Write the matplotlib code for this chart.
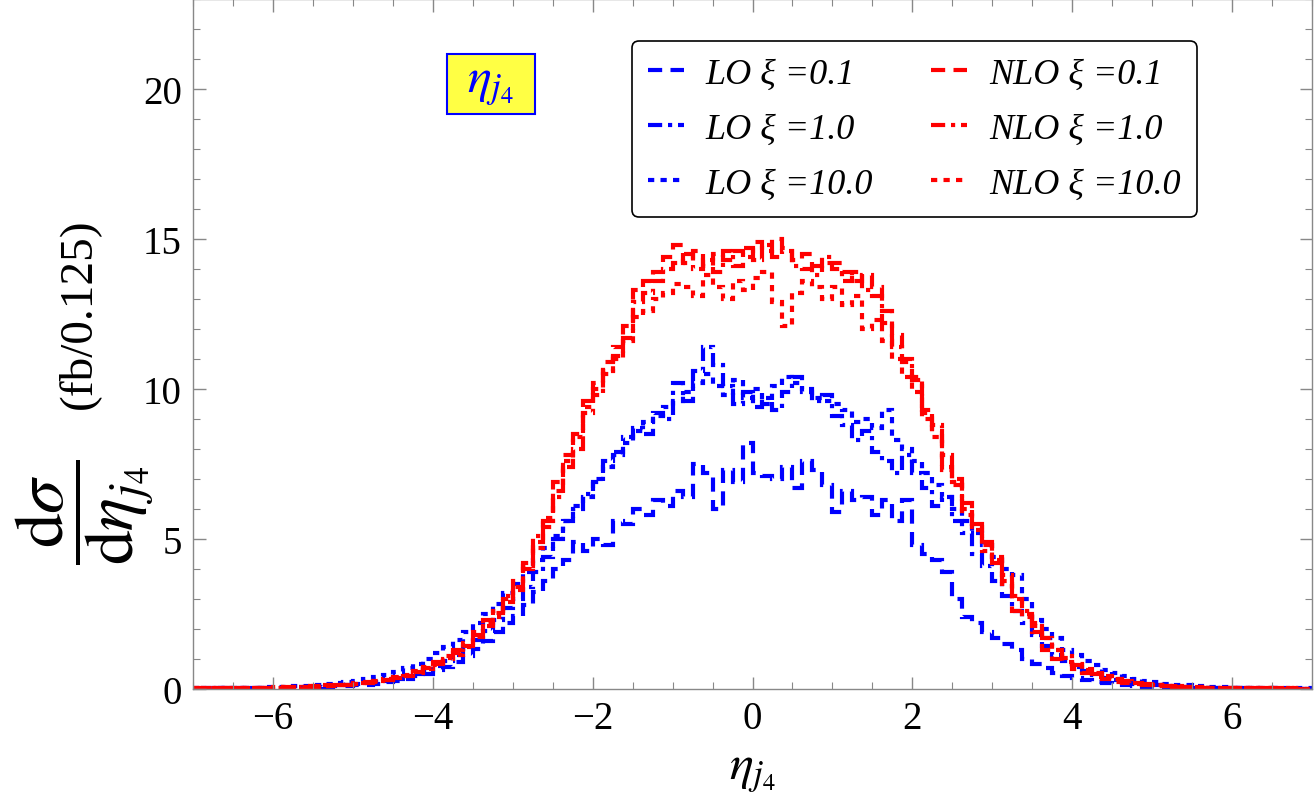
# eta_j4 distributions, LO / NLO for three scale choices
import numpy as np
import matplotlib
matplotlib.use('Agg')
from matplotlib import pyplot as plt
from matplotlib.patches import Rectangle
from matplotlib.ticker import MultipleLocator

plt.rcParams['mathtext.fontset'] = 'stix'
plt.rcParams['font.family'] = ['Liberation Serif', 'DejaVu Serif']

bin_width = 0.125
eta_min, eta_max = -7.0, 7.0

# one row = one unit of eta (8 bins), from -7 to 7
lo_01 = [
    0.01, 0.01, 0.02, 0.01, 0.02, 0.03, 0.02, 0.03,
    0.03, 0.04, 0.05, 0.05, 0.07, 0.06, 0.09, 0.10,
    0.12, 0.15, 0.18, 0.22, 0.27, 0.33, 0.42, 0.50,
    0.62, 0.75, 0.90, 1.10, 1.35, 1.60, 1.90, 2.20,
    2.45, 2.80, 3.25, 3.60, 4.00, 4.30, 4.90, 4.60,
    5.00, 4.80, 5.60, 5.50, 6.00, 5.80, 6.30, 6.10,
    6.60, 6.40, 7.50, 7.20, 6.00, 7.30, 6.90, 8.20,
    7.20, 7.10, 7.00, 7.40, 6.70, 7.60, 7.30, 6.80,
    5.90, 6.60, 6.30, 6.40, 5.80, 6.30, 5.60, 6.30,
    4.80, 4.50, 4.30, 3.90, 3.00, 2.40, 2.20, 1.90,
    1.70, 1.50, 1.30, 1.00, 0.85, 0.70, 0.55, 0.45,
    0.38, 0.30, 0.25, 0.20, 0.16, 0.13, 0.10, 0.08,
    0.07, 0.06, 0.05, 0.04, 0.04, 0.03, 0.03, 0.02,
    0.02, 0.02, 0.01, 0.01, 0.01, 0.01, 0.01, 0.00,
]
lo_1 = [
    0.01, 0.02, 0.01, 0.02, 0.03, 0.02, 0.03, 0.04,
    0.04, 0.05, 0.06, 0.08, 0.07, 0.10, 0.12, 0.13,
    0.16, 0.20, 0.25, 0.28, 0.35, 0.42, 0.50, 0.62,
    0.78, 0.95, 1.15, 1.35, 1.65, 1.95, 2.30, 2.70,
    3.00, 3.40, 3.90, 4.40, 5.00, 5.60, 6.00, 6.50,
    6.90, 7.60, 7.90, 8.40, 8.70, 8.50, 9.20, 9.00,
    10.2, 9.60, 10.6, 11.4, 10.8, 10.1, 9.50, 9.90,
    9.40, 9.70, 9.30, 9.90, 10.4, 10.0, 9.60, 9.80,
    9.10, 8.80, 8.30, 8.60, 7.90, 7.60, 7.20, 7.80,
    7.20, 6.70, 6.10, 6.40, 5.60, 5.20, 4.50, 4.10,
    3.60, 3.10, 2.60, 2.20, 1.80, 1.45, 1.15, 0.92,
    0.75, 0.60, 0.48, 0.38, 0.30, 0.24, 0.18, 0.15,
    0.12, 0.10, 0.08, 0.07, 0.05, 0.05, 0.04, 0.03,
    0.03, 0.02, 0.02, 0.01, 0.02, 0.01, 0.01, 0.01,
]
lo_10 = [
    0.02, 0.02, 0.03, 0.03, 0.04, 0.05, 0.04, 0.06,
    0.07, 0.08, 0.10, 0.11, 0.14, 0.16, 0.20, 0.23,
    0.28, 0.34, 0.40, 0.48, 0.58, 0.70, 0.85, 1.00,
    1.20, 1.40, 1.65, 1.90, 2.20, 2.50, 2.85, 3.20,
    3.50, 3.90, 4.30, 4.70, 5.10, 5.60, 6.10, 6.40,
    7.00, 7.40, 7.80, 8.20, 8.60, 8.90, 9.10, 9.40,
    9.60, 9.90, 10.2, 10.5, 10.1, 9.80, 10.3, 9.70,
    10.0, 9.50, 10.1, 10.4, 10.2, 9.90, 9.70, 9.60,
    9.50, 9.30, 8.90, 9.00, 8.70, 9.30, 8.30, 8.00,
    7.60, 7.20, 6.80, 6.40, 6.00, 5.60, 5.20, 4.80,
    4.40, 4.00, 3.80, 3.00, 2.30, 2.00, 1.70, 1.30,
    1.15, 0.95, 0.80, 0.65, 0.52, 0.42, 0.34, 0.27,
    0.22, 0.18, 0.15, 0.12, 0.10, 0.08, 0.07, 0.06,
    0.05, 0.04, 0.04, 0.03, 0.03, 0.02, 0.02, 0.02,
]
nlo_01 = [
    0.02, 0.01, 0.03, 0.02, 0.03, 0.04, 0.03, 0.05,
    0.05, 0.06, 0.08, 0.07, 0.10, 0.12, 0.11, 0.15,
    0.18, 0.22, 0.25, 0.30, 0.38, 0.45, 0.55, 0.70,
    0.85, 1.00, 1.20, 1.45, 1.80, 2.10, 2.55, 2.90,
    3.40, 4.20, 4.90, 5.60, 6.90, 7.80, 8.50, 9.60,
    10.2, 10.9, 11.4, 12.1, 13.3, 13.6, 13.9, 14.4,
    14.8, 14.2, 14.6, 14.1, 14.5, 14.3, 14.6, 14.4,
    14.9, 14.6, 15.0, 14.7, 14.3, 14.5, 14.1, 14.2,
    14.2, 13.9, 13.6, 13.8, 13.4, 12.6, 11.8, 11.0,
    10.4, 9.30, 8.60, 7.40, 6.80, 5.80, 5.30, 4.80,
    4.20, 3.60, 2.60, 2.50, 1.90, 1.30, 1.00, 0.90,
    0.67, 0.55, 0.40, 0.33, 0.25, 0.20, 0.17, 0.14,
    0.12, 0.10, 0.09, 0.07, 0.06, 0.05, 0.04, 0.04,
    0.03, 0.03, 0.02, 0.02, 0.02, 0.01, 0.01, 0.01,
]
nlo_1 = [
    0.01, 0.02, 0.02, 0.03, 0.02, 0.03, 0.04, 0.04,
    0.06, 0.05, 0.07, 0.09, 0.08, 0.11, 0.13, 0.14,
    0.17, 0.20, 0.27, 0.33, 0.36, 0.48, 0.58, 0.66,
    0.90, 1.05, 1.30, 1.40, 1.90, 2.30, 2.40, 3.10,
    3.60, 4.00, 5.10, 5.40, 6.40, 7.40, 8.00, 9.20,
    9.80, 10.6, 11.1, 11.7, 12.9, 13.2, 13.6, 14.0,
    14.2, 14.5, 14.0, 14.3, 13.9, 14.6, 14.1, 14.7,
    14.3, 14.8, 14.4, 14.6, 14.1, 14.0, 13.8, 14.4,
    14.0, 13.6, 13.9, 13.3, 13.1, 12.2, 11.4, 10.9,
    10.3, 9.20, 8.80, 7.80, 7.00, 6.20, 5.50, 4.90,
    4.40, 3.80, 3.00, 2.60, 2.20, 1.70, 1.30, 1.10,
    0.80, 0.62, 0.50, 0.40, 0.32, 0.26, 0.20, 0.16,
    0.14, 0.11, 0.08, 0.08, 0.06, 0.05, 0.05, 0.03,
    0.03, 0.02, 0.03, 0.02, 0.01, 0.02, 0.01, 0.01,
]
nlo_10 = [
    0.02, 0.02, 0.01, 0.03, 0.03, 0.02, 0.04, 0.05,
    0.04, 0.07, 0.06, 0.08, 0.11, 0.10, 0.14, 0.13,
    0.19, 0.21, 0.28, 0.31, 0.40, 0.43, 0.60, 0.72,
    0.80, 1.10, 1.15, 1.55, 1.75, 2.20, 2.60, 3.00,
    3.30, 4.10, 4.70, 5.70, 6.60, 7.60, 8.40, 9.40,
    10.0, 10.5, 11.0, 11.6, 12.4, 12.6, 13.0, 13.2,
    13.5, 13.4, 13.1, 13.8, 13.4, 13.0, 13.6, 13.3,
    13.7, 13.9, 12.9, 12.1, 13.2, 13.6, 13.4, 13.0,
    13.4, 12.8, 13.1, 12.0, 12.3, 11.6, 11.0, 10.4,
    9.90, 9.00, 8.40, 7.30, 6.90, 6.00, 5.40, 4.60,
    4.30, 3.50, 3.10, 2.40, 2.10, 1.70, 1.30, 1.05,
    0.85, 0.68, 0.52, 0.42, 0.33, 0.26, 0.21, 0.15,
    0.13, 0.10, 0.09, 0.06, 0.07, 0.05, 0.04, 0.03,
    0.03, 0.02, 0.02, 0.03, 0.01, 0.01, 0.02, 0.01,
]

labels = ['LO ξ =0.1', 'LO ξ =1.0', 'LO ξ =10.0',
          'NLO ξ =0.1', 'NLO ξ =1.0', 'NLO ξ =10.0']

dashed = (0, (3.4, 2.0))
dashdot = (0, (3.4, 1.4, 1.0, 1.4))
dotted = (0, (1.5, 1.5))

series = [
    (lo_01, '#0000ff', dashed),
    (lo_1, '#0000ff', dashdot),
    (lo_10, '#0000ff', dotted),
    (nlo_01, '#ff0000', dashed),
    (nlo_1, '#ff0000', dashdot),
    (nlo_10, '#ff0000', dotted),
]

edges = np.arange(eta_min, eta_max + bin_width / 2, bin_width)

fig = plt.figure(figsize=(13.15, 8.03), dpi=100)
ax = fig.add_axes([0.1468, 0.1407, 0.8509, 0.8593])

for (vals, color, ls), lab in zip(series, labels):
    ax.stairs(vals, edges, color=color, linestyle=ls, linewidth=3.0,
              label=lab, baseline=None)

ax.set_xlim(-7, 7)
ax.set_ylim(0, 23)
ax.xaxis.set_major_locator(MultipleLocator(2))
ax.xaxis.set_minor_locator(MultipleLocator(0.5))
ax.yaxis.set_major_locator(MultipleLocator(5))
ax.yaxis.set_minor_locator(MultipleLocator(1))
ax.tick_params(which='both', direction='in', top=True, right=True,
               color='#888888', labelsize=28, pad=8)
ax.tick_params(which='major', length=9, width=1)
ax.tick_params(which='minor', length=5, width=0.8)
ax.tick_params(axis='x', labeltop=False)
ax.tick_params(axis='y', labelright=False)
for sp in ax.spines.values():
    sp.set_color('#888888')
    sp.set_linewidth(1.0)

ax.set_xlabel(r'$\eta_{j_4}$', fontsize=36)
ax.xaxis.set_label_coords(0.5, -0.085)

# y label: big fraction plus the unit, as two rotated texts
fig.text(0.0646, 0.362, r'$\dfrac{\mathrm{d}\sigma}{\mathrm{d}\eta_{j_4}}$',
         fontsize=50, rotation=90, ha='center', va='center')
fig.text(0.0600, 0.609, '(fb/0.125)', fontsize=34, rotation=90,
         ha='center', va='center')

# yellow tag in the upper left
ax.add_patch(Rectangle((0.227, 0.8333), 0.0786, 0.087, transform=ax.transAxes,
                       facecolor='#ffff44', edgecolor='#0000ff',
                       linewidth=1.5, zorder=5))
ax.text(0.266, 0.877, r'$\eta_{j_4}$', transform=ax.transAxes, fontsize=36,
        color='#0000ff', ha='center', va='center', zorder=6)

leg = ax.legend(ncol=2, loc='upper right', bbox_to_anchor=(0.897, 0.939),
                borderaxespad=0, frameon=True, fancybox=True,
                prop={'family': 'Liberation Serif', 'style': 'italic', 'size': 26},
                handlelength=1.0, handletextpad=0.6, columnspacing=1.6,
                labelspacing=0.6, borderpad=0.45)
leg.get_frame().set_edgecolor('black')
leg.get_frame().set_linewidth(1.2)
leg.get_frame().set_alpha(1.0)

fig.savefig('out.png', dpi=100)
